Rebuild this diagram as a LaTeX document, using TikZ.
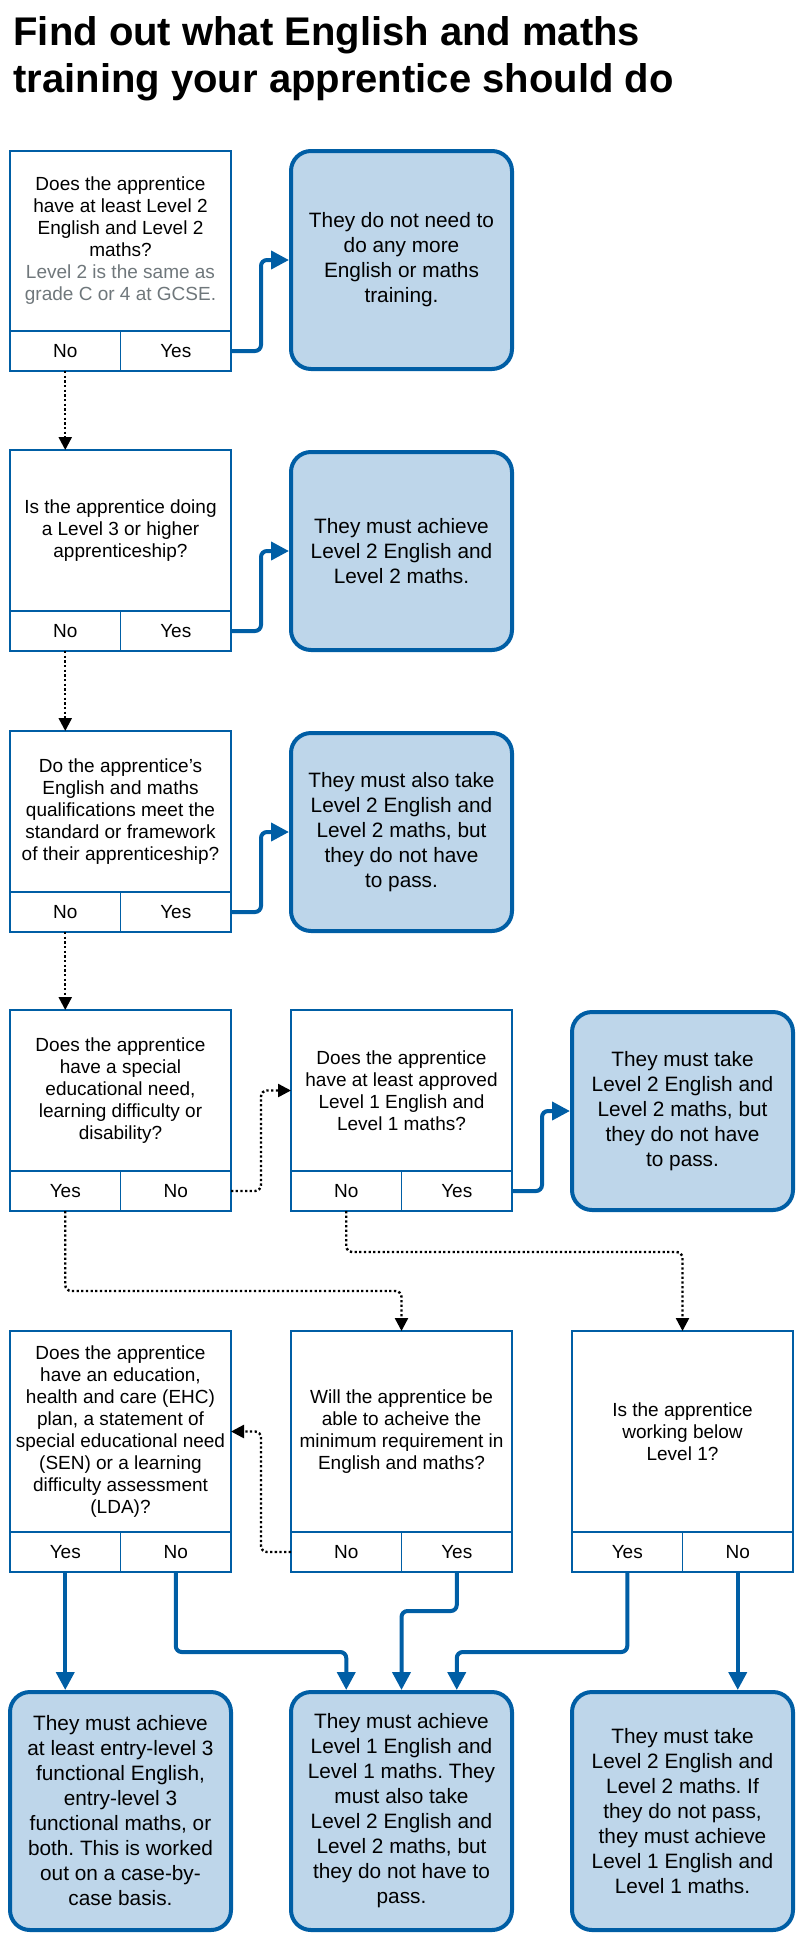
\documentclass[tikz,border=0pt]{standalone}
\usepackage{fontspec}
\setmainfont{Liberation Sans}
\usetikzlibrary{arrows.meta}
\frenchspacing

\definecolor{govblue}{HTML}{005EA5}
\definecolor{govpale}{HTML}{BED6EA}
\definecolor{govgrey}{HTML}{6F777B}

\tikzset{every picture/.style={line width=0.75pt}}
\tikzset{
  title/.style={inner sep=0pt, align=left, font=\fontsize{30}{35.25}\selectfont\bfseries},
  question/.style={draw=govblue, line width=0.8pt, outer sep=0pt, minimum width=165.75pt, inner sep=0pt, align=center, font=\fontsize{14.25}{16.5}\selectfont},
  answer/.style={draw=govblue, line width=0.8pt, outer sep=0pt, minimum width=82.875pt, minimum height=30pt, inner sep=0pt, font=\fontsize{14.25}{16.5}\selectfont},
  outcome/.style={draw=govblue, fill=govpale, line width=3pt, rounded corners=15pt, minimum width=165.75pt, inner sep=0pt, align=center, font=\fontsize{15.6}{18.75}\selectfont},
  yesline/.style={draw=govblue, line width=3pt, rounded corners=4.5pt, -{Triangle[length=13.5pt,width=13.5pt]}},
  noline/.style={draw=black, line width=1.8pt, dash pattern=on 1.7pt off 1.8pt, rounded corners=4.5pt, -{Triangle[length=9.75pt,width=9.75pt]}}
}

\begin{document}
\begin{tikzpicture}[x=0.75pt,y=0.75pt,yscale=-1,xscale=1]
\useasboundingbox (0,0) rectangle (801,1941);

% Title
\node [title, anchor=north west] (title) at (13,16.5) {Find out what English and maths\\training your apprentice should do};

% Question 1
\node [question, minimum height=135pt] (q1) at (120.5,241) {Does the apprentice\\have at least Level 2\\English and Level 2\\maths?\\\textcolor{govgrey}{Level 2 is the same as}\\\textcolor{govgrey}{grade C or 4 at GCSE.}};
\node [answer, anchor=north west] (q1no) at (q1.south west) {No};
\node [answer, anchor=north east] (q1yes) at (q1.south east) {Yes};
\node [outcome, minimum height=163.5pt] (r1) at (401.5,260) {They do not need to\\do any more\\English or maths\\training.};

% Question 2
\node [question, minimum height=120.75pt] (q2) at (120.5,530.5) {Is the apprentice doing\\a Level 3 or higher\\apprenticeship?};
\node [answer, anchor=north west] (q2no) at (q2.south west) {No};
\node [answer, anchor=north east] (q2yes) at (q2.south east) {Yes};
\node [outcome, minimum height=148.5pt] (r2) at (401.5,551) {They must achieve\\Level 2 English and\\Level 2 maths.};

% Question 3
\node [question, minimum height=120.75pt] (q3) at (120.5,811.5) {Do the apprentice’s\\English and maths\\qualifications meet the\\standard or framework\\of their apprenticeship?};
\node [answer, anchor=north west] (q3no) at (q3.south west) {No};
\node [answer, anchor=north east] (q3yes) at (q3.south east) {Yes};
\node [outcome, minimum height=148.5pt] (r3) at (401.5,832) {They must also take\\Level 2 English and\\Level 2 maths, but\\they do not have\\to pass.};

% Question 4
\node [question, minimum height=120.75pt] (q4a) at (120.5,1090.5) {Does the apprentice\\have a special\\educational need,\\learning difficulty or\\disability?};
\node [answer, anchor=north west] (q4ayes) at (q4a.south west) {Yes};
\node [answer, anchor=north east] (q4ano) at (q4a.south east) {No};
\node [question, minimum height=120.75pt] (q4b) at (401.5,1090.5) {Does the apprentice\\have at least approved\\Level 1 English and\\Level 1 maths?};
\node [answer, anchor=north west] (q4bno) at (q4b.south west) {No};
\node [answer, anchor=north east] (q4byes) at (q4b.south east) {Yes};
\node [outcome, minimum height=148.5pt] (r4) at (682.5,1111) {They must take\\Level 2 English and\\Level 2 maths, but\\they do not have\\to pass.};

% Question 5
\node [question, minimum height=150.75pt] (q5a) at (120.5,1431.5) {Does the apprentice\\have an education,\\health and care (EHC)\\plan, a statement of\\special educational need\\(SEN) or a learning\\difficulty assessment\\(LDA)?};
\node [answer, anchor=north west] (q5ayes) at (q5a.south west) {Yes};
\node [answer, anchor=north east] (q5ano) at (q5a.south east) {No};
\node [question, minimum height=150.75pt] (q5b) at (401.5,1431.5) {Will the apprentice be\\able to acheive the\\minimum requirement in\\English and maths?};
\node [answer, anchor=north west] (q5bno) at (q5b.south west) {No};
\node [answer, anchor=north east] (q5byes) at (q5b.south east) {Yes};
\node [question, minimum height=150.75pt] (q5c) at (682.5,1431.5) {Is the apprentice\\working below\\Level 1?};
\node [answer, anchor=north west] (q5cyes) at (q5c.south west) {Yes};
\node [answer, anchor=north east] (q5cno) at (q5c.south east) {No};

% Outcomes
\node [outcome, minimum height=178.5pt] (r6a) at (120.5,1811) {They must achieve\\at least entry-level 3\\functional English,\\entry-level 3\\functional maths, or\\both. This is worked\\out on a case-by-\\case basis.};
\node [outcome, minimum height=178.5pt] (r6b) at (401.5,1811) {They must achieve\\Level 1 English and\\Level 1 maths. They\\must also take\\Level 2 English and\\Level 2 maths, but\\they do not have to\\pass.};
\node [outcome, minimum height=178.5pt] (r6c) at (682.5,1811) {They must take\\Level 2 English and\\Level 2 maths. If\\they do not pass,\\they must achieve\\Level 1 English and\\Level 1 maths.};

% Yes connectors
\draw [yesline] (q1yes.east) -- ++(30,0) |- (r1.west);
\draw [yesline] (q2yes.east) -- ++(30,0) |- (r2.west);
\draw [yesline] (q3yes.east) -- ++(30,0) |- (r3.west);
\draw [yesline] (q4byes.east) -- ++(30,0) |- (r4.west);
\draw [yesline] (q5ayes.south) -- (q5ayes.south |- r6a.north);
\draw [yesline] (q5ano.south) -- ++(0,80) -| (q5bno |- r6b.north);
\draw [yesline] (q5byes.south) -- ++(0,39) -| (r6b.north);
\draw [yesline] (q5cyes.south) -- ++(0,80) -| (q5byes |- r6b.north);
\draw [yesline] (q5cno.south) -- (q5cno.south |- r6c.north);

% No connectors
\draw [noline] (q1no.south) -- (q1no.south |- q2.north);
\draw [noline] (q2no.south) -- (q2no.south |- q3.north);
\draw [noline] (q3no.south) -- (q3no.south |- q4a.north);
\draw [noline] (q4ano.east) -- ++(30,0) |- (q4b.west);
\draw [noline] (q4bno.south) -- ++(0,41) -| (q5c.north);
\draw [noline] (q4ayes.south) -- ++(0,80) -| (q5b.north);
\draw [noline] (q5bno.west) -- ++(-30,0) |- (q5a.east);

\end{tikzpicture}
\end{document}
